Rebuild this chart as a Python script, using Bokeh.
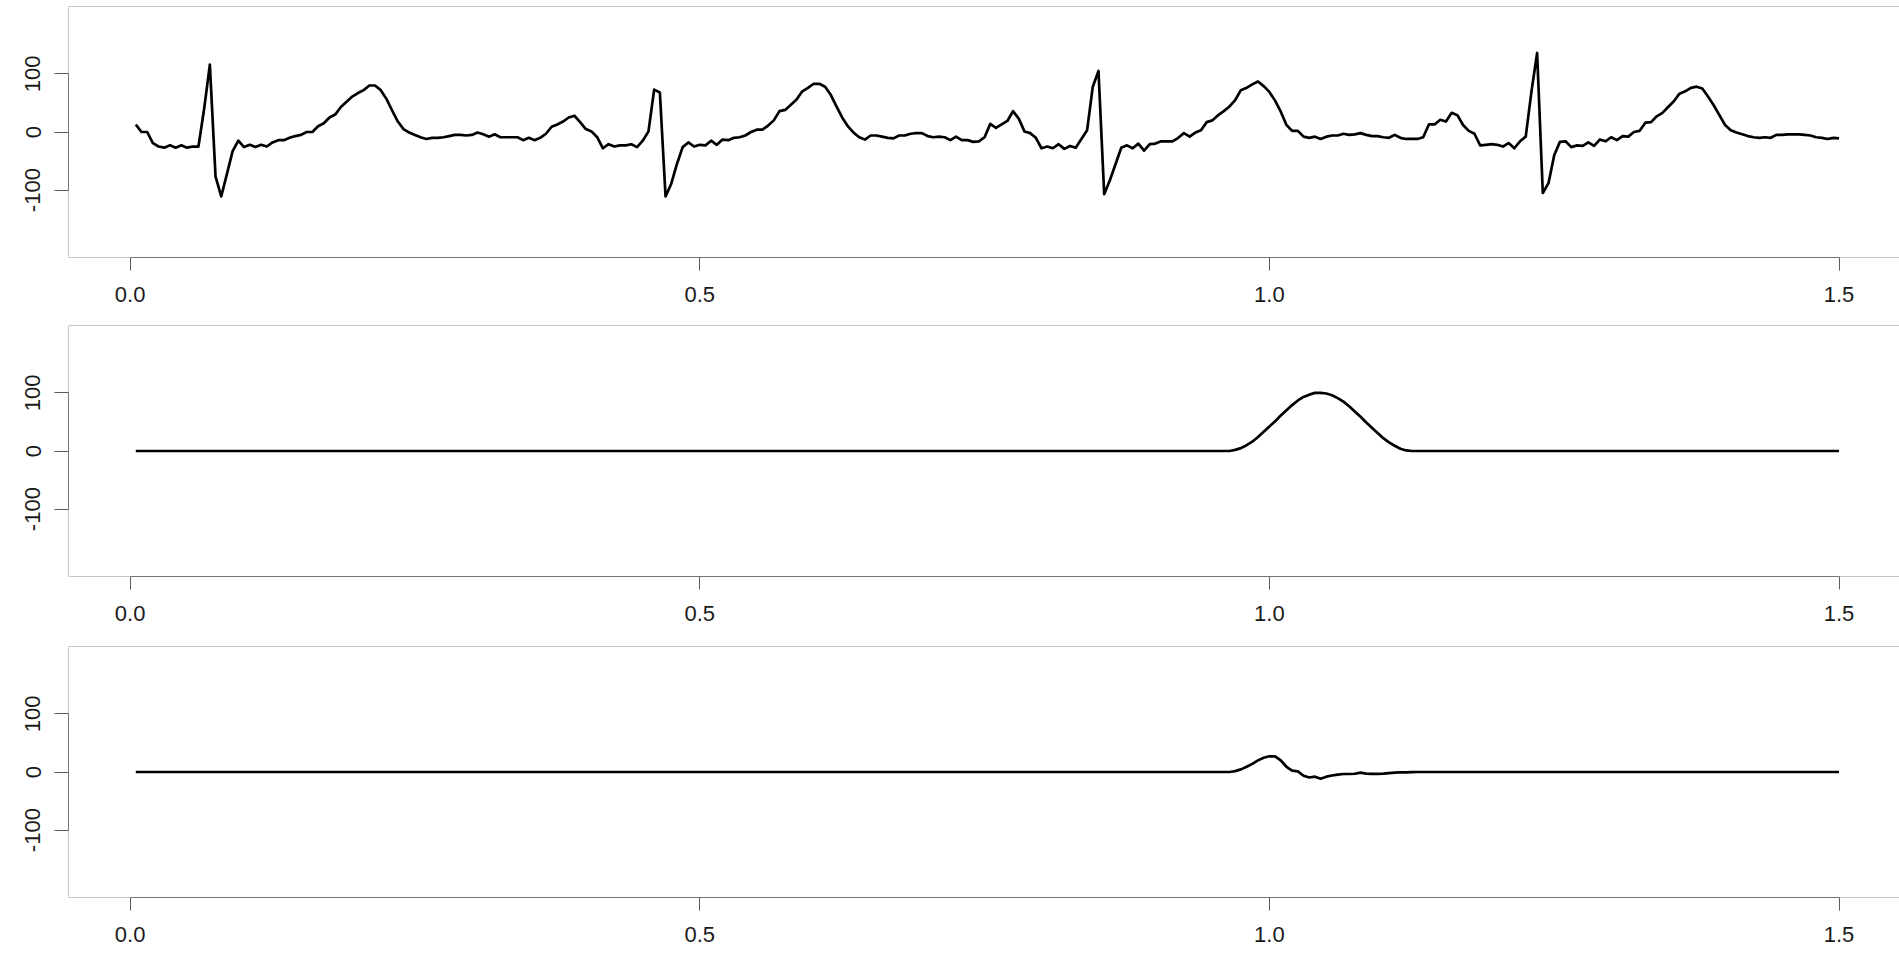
from bokeh.plotting import figure
from bokeh.layouts import column
from bokeh.models import Range1d, FixedTicker, NumeralTickFormatter, Span
from bokeh.embed import file_html
from bokeh.resources import INLINE

# sample times (200 Hz, 300 samples)
time = [i / 200 for i in range(1, 301)]

# panel 1: ECG trace
ecg = [
    13, 0, 0, -19, -25, -27, -23, -27, -23, -27,
    -25, -25, 40, 116, -77, -111, -72, -33, -15, -26,
    -22, -26, -22, -25, -18, -14, -14, -10, -7, -5,
    0, 0, 10, 15, 25, 30, 43, 52, 61, 67,
    72, 80, 80, 72, 57, 37, 18, 5, -1, -5,
    -9, -12, -10, -10, -9, -7, -5, -5, -6, -5,
    -1, -4, -8, -4, -9, -9, -9, -9, -14, -10,
    -14, -10, -3, 9, 13, 18, 25, 28, 17, 5,
    1, -9, -28, -21, -25, -23, -23, -21, -26, -15,
    1, 73, 68, -111, -89, -55, -26, -18, -25, -22,
    -23, -15, -22, -13, -14, -10, -9, -6, 0, 4,
    4, 11, 20, 36, 38, 47, 56, 70, 76, 83,
    83, 78, 64, 44, 25, 10, -1, -9, -13, -6,
    -6, -8, -10, -11, -6, -6, -3, -2, -2, -7,
    -9, -8, -9, -14, -8, -14, -14, -17, -16, -9,
    14, 7, 13, 19, 36, 23, 1, -2, -10, -28,
    -25, -28, -21, -29, -24, -27, -12, 3, 78, 105,
    -107, -83, -55, -27, -23, -28, -20, -32, -21, -20,
    -16, -16, -16, -10, -2, -8, -1, 3, 17, 20,
    29, 36, 44, 55, 72, 76, 82, 87, 79, 69,
    54, 35, 12, 2, 2, -8, -10, -8, -12, -8,
    -6, -6, -3, -5, -4, -2, -5, -7, -7, -9,
    -10, -5, -10, -12, -12, -12, -9, 13, 13, 21,
    18, 33, 29, 12, 2, -3, -23, -22, -21, -22,
    -25, -19, -28, -16, -8, 69, 136, -105, -88, -40,
    -17, -16, -26, -23, -24, -18, -24, -13, -16, -9,
    -14, -7, -8, 0, 2, 16, 17, 27, 33, 43,
    53, 66, 70, 76, 78, 75, 61, 46, 29, 12,
    3, -1, -4, -7, -9, -10, -9, -10, -5, -5,
    -4, -4, -4, -5, -6, -9, -10, -12, -10, -11,
]

# panel 2: smooth bump
bump_part = [0, 2, 5, 10, 16, 24, 33, 42, 51, 61, 70, 79, 87, 93, 97, 100, 100,
             99, 96, 91, 85, 77, 68, 59, 49, 40, 31, 22, 15, 9, 4, 1, 0, 0]
bump = [0] * 192 + bump_part + [0] * 74

# panel 3: small wiggle
wiggle_part = [0, 1.5, 4.5, 9, 14, 20, 24.5, 27, 27, 20, 9, 2.3, 1, -6.5, -9.5, -8,
               -11.5, -8, -6, -4.5, -3.4, -3.4, -3, -1.1, -2.8, -3.3, -3.2, -2.9,
               -2, -1.1, -0.8, -0.5, -0.2, 0]
wiggle = [0] * 192 + wiggle_part + [0] * 74

x_ticks = [0.0, 0.5, 1.0, 1.5]
y_ticks = [-100, 0, 100]
y_labels = {-100: "-100", 0: "0", 100: "100"}

X0, X1 = -0.05407, 1.55308
Y0, Y1 = -216, 216
FONT = "Liberation Sans"
BOX = "#8f8f8f"
AX = "#5a5a5a"


def make_panel(values, height, top, bottom):
    p = figure(width=1899, height=height, output_backend="svg", toolbar_location=None,
               x_range=Range1d(X0, X1), y_range=Range1d(Y0, Y1),
               min_border_left=68, min_border_right=0, min_border_top=top,
               min_border_bottom=bottom, outline_line_color=None,
               background_fill_color="white", border_fill_color="white")
    p.grid.visible = False
    for sp in (Span(location=Y1, dimension="width"), Span(location=Y0, dimension="width"),
               Span(location=X0, dimension="height")):
        sp.line_color = BOX
        sp.line_width = 1
        p.add_layout(sp)
    p.line(time, values, line_color="black", line_width=2.7, line_join="round")

    xa = p.xaxis[0]
    xa.ticker = FixedTicker(ticks=x_ticks)
    xa.formatter = NumeralTickFormatter(format="0.0")
    xa.bounds = (x_ticks[0], x_ticks[-1])
    xa.axis_line_color = AX
    xa.major_tick_line_color = AX
    xa.major_tick_out = 13
    xa.major_tick_in = 0
    xa.minor_tick_line_color = None
    xa.major_label_standoff = 16
    xa.major_label_text_font = FONT
    xa.major_label_text_font_size = "22px"
    xa.major_label_text_color = "#1a1a1a"

    ya = p.yaxis[0]
    ya.ticker = FixedTicker(ticks=y_ticks)
    ya.major_label_overrides = y_labels
    ya.bounds = (y_ticks[0], y_ticks[-1])
    ya.axis_line_color = AX
    ya.major_tick_line_color = AX
    ya.major_tick_out = 14
    ya.major_tick_in = 0
    ya.minor_tick_line_color = None
    ya.major_label_standoff = 14
    ya.major_label_orientation = "vertical"
    ya.major_label_text_font = FONT
    ya.major_label_text_font_size = "22px"
    ya.major_label_text_color = "#1a1a1a"
    return p


p1 = make_panel(ecg, 320, 6, 63)
p2 = make_panel(bump, 320, 5, 64)
p3 = make_panel(wiggle, 312, 6, 55)

layout = column(p1, p2, p3, spacing=0)
open("out.html", "w").write(file_html(layout, INLINE))
